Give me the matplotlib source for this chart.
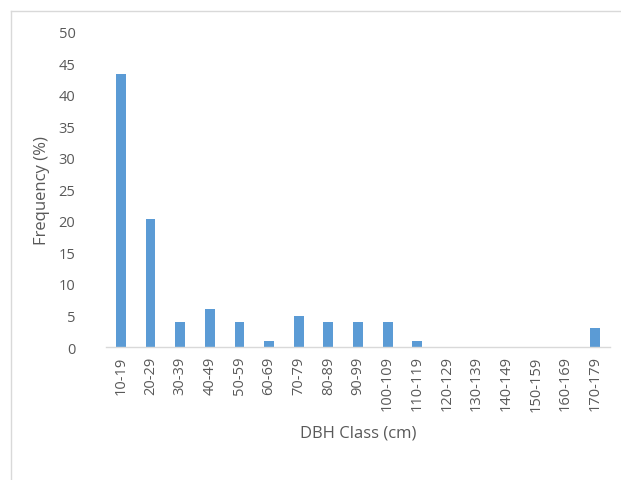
import matplotlib
matplotlib.use('Agg')
import matplotlib.pyplot as plt
from matplotlib.lines import Line2D

classes = ['10-19', '20-29', '30-39', '40-49', '50-59', '60-69', '70-79', '80-89',
           '90-99', '100-109', '110-119', '120-129', '130-139', '140-149',
           '150-159', '160-169', '170-179']
frequency = [43.4, 20.3, 4.0, 6.0, 4.0, 1.0, 5.0, 4.0, 4.0, 4.0, 1.0,
             0, 0, 0, 0, 0, 3.0]
y_ticks = [0, 5, 10, 15, 20, 25, 30, 35, 40, 45, 50]

W, H = 621, 481
plt.rcParams['font.family'] = ['Open Sans', 'DejaVu Sans']

fig = plt.figure(figsize=(W / 100, H / 100), dpi=100)
ax = fig.add_axes([106 / W, 1 - 348 / H, (610 - 106) / W, (348 - 33) / H])

x = list(range(len(classes)))
ax.bar(x, frequency, width=0.33, color='#5B9BD5')

ax.set_xlim(-0.5, len(classes) - 0.5)
ax.set_ylim(0, 50)
ax.set_yticks(y_ticks)
ax.set_xticks(x)
ax.set_xticklabels(classes, rotation=90)
ax.tick_params(axis='both', length=0, colors='#595959', labelsize=10.5)
ax.tick_params(axis='y', pad=22)
ax.tick_params(axis='x', pad=6)

for side in ['top', 'right', 'left']:
    ax.spines[side].set_visible(False)
ax.spines['bottom'].set_color('#d9d9d9')
ax.spines['bottom'].set_linewidth(1)

ax.set_xlabel('DBH Class (cm)', color='#595959', fontsize=12, labelpad=10)
ax.set_ylabel('Frequency (%)', color='#595959', fontsize=12, labelpad=6)

# chart border (light grey frame, cut by the image edges)
fig.add_artist(Line2D([11 / W, 11 / W], [0, 1 - 12 / H], transform=fig.transFigure,
                      color='#d9d9d9', lw=1))
fig.add_artist(Line2D([11 / W, 1], [1 - 12 / H, 1 - 12 / H], transform=fig.transFigure,
                      color='#d9d9d9', lw=1))

fig.savefig('out.png', dpi=100, facecolor='white')
